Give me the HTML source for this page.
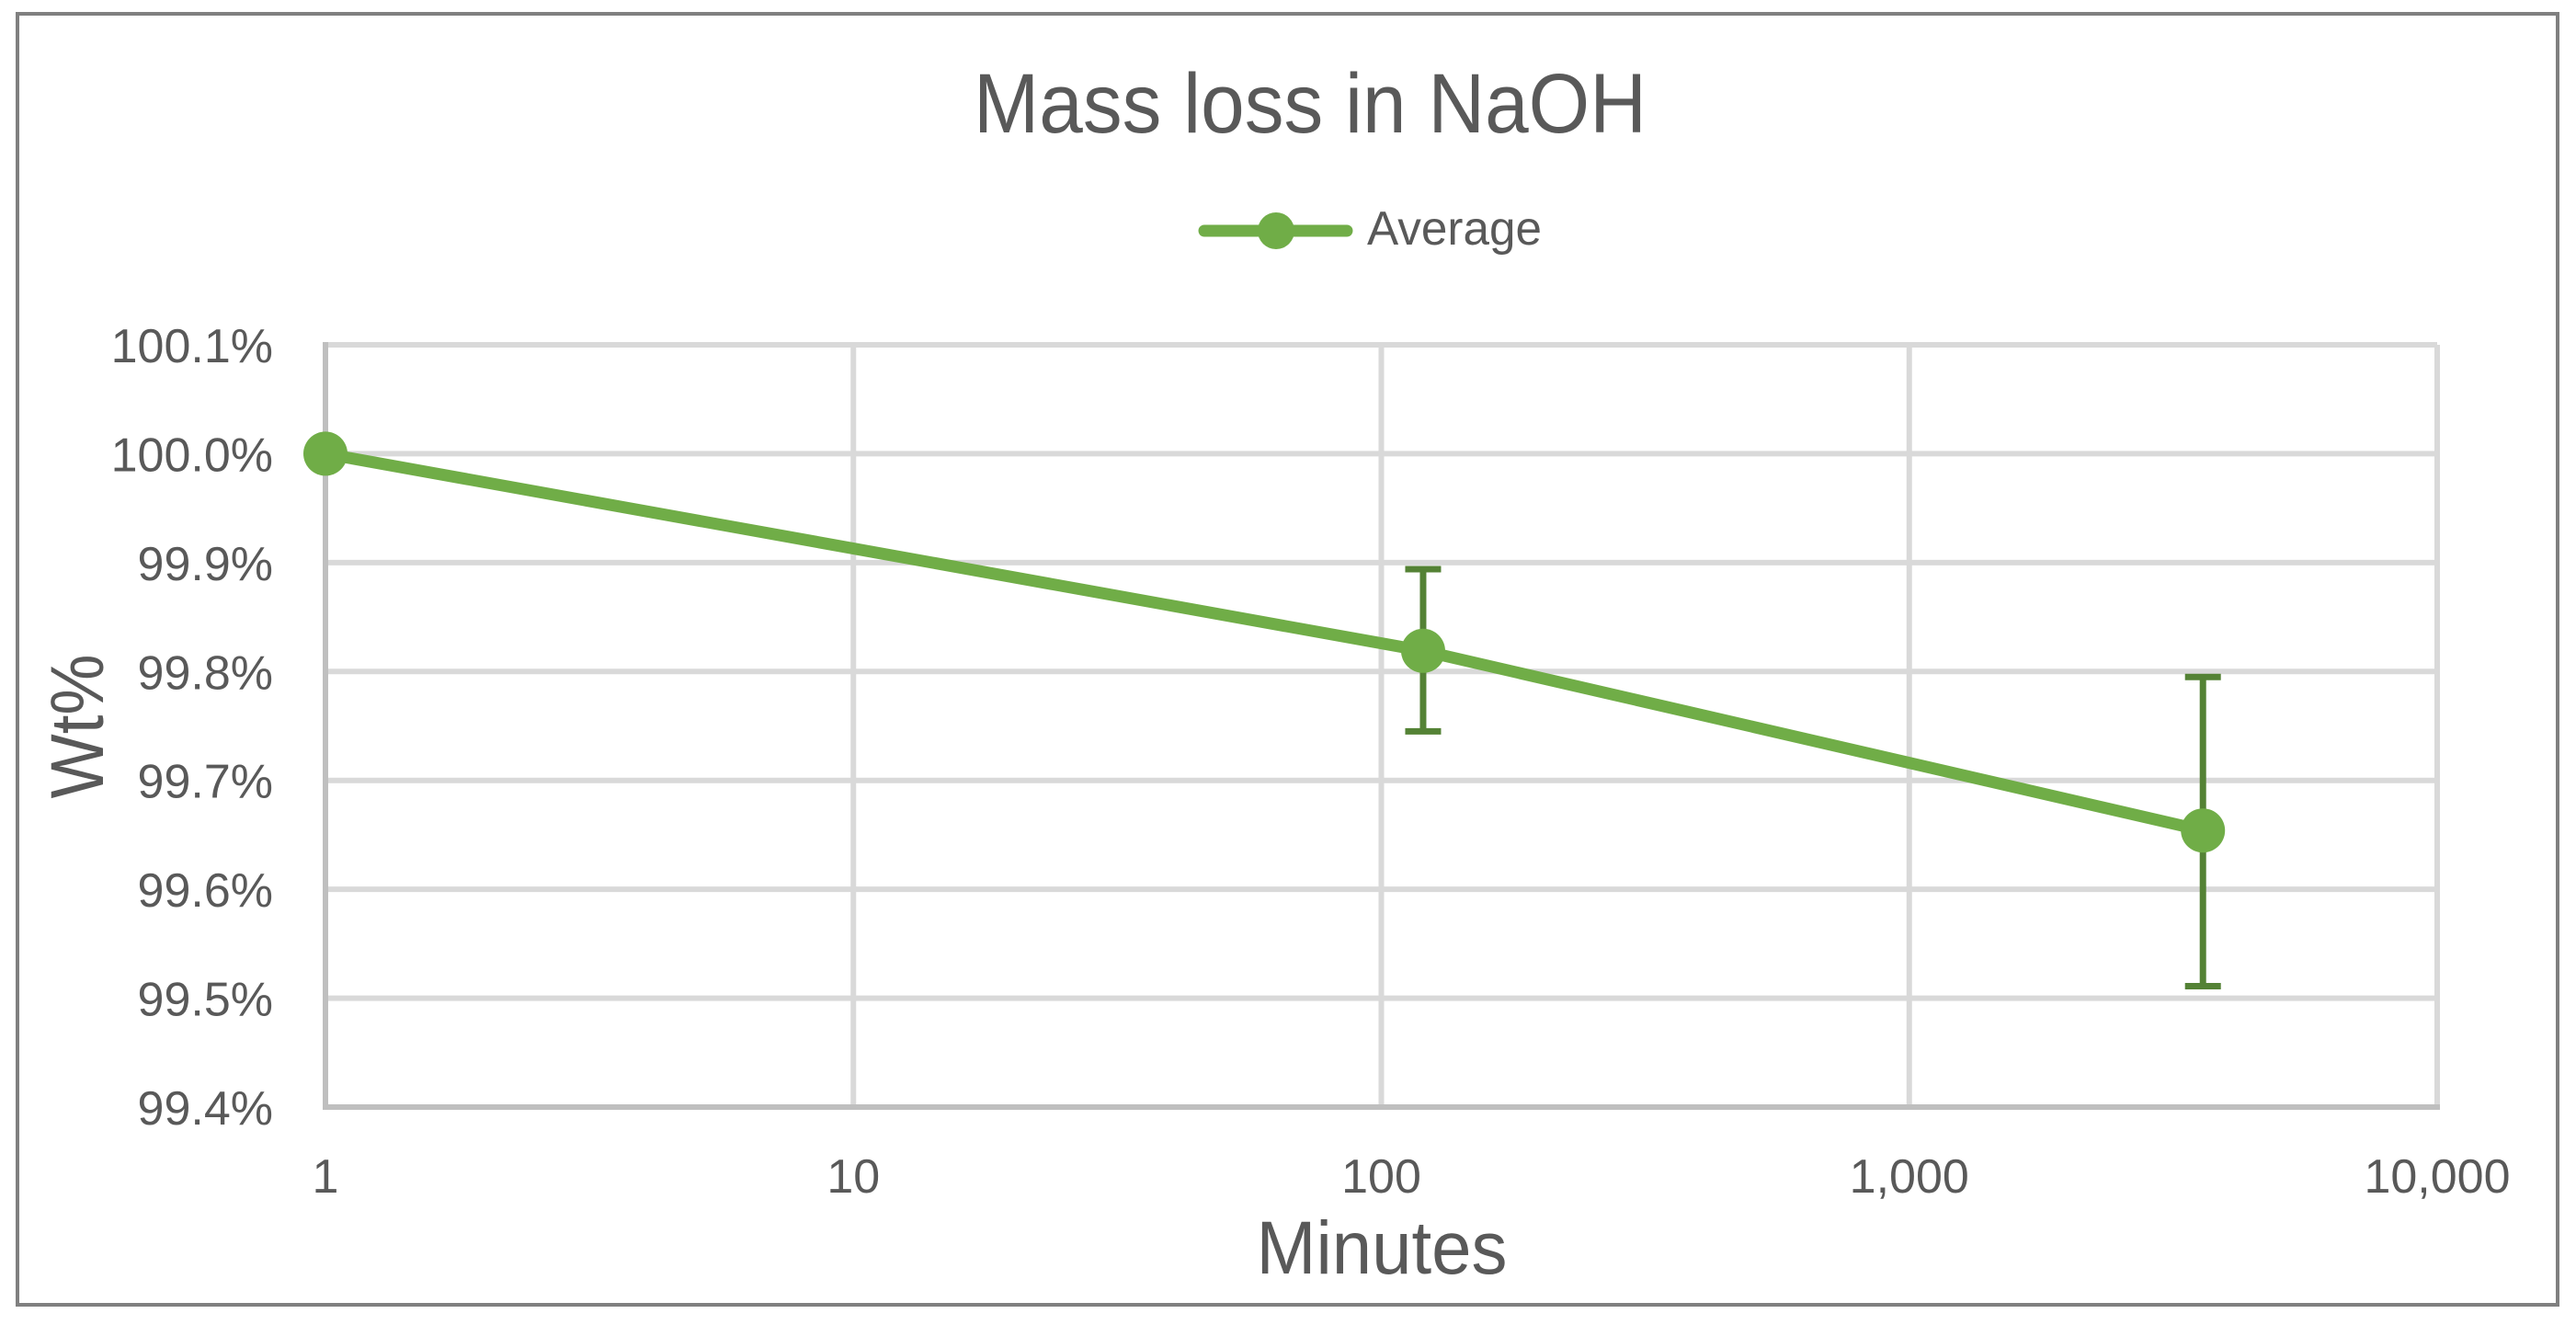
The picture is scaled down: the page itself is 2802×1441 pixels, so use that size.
<!DOCTYPE html>
<html><head><meta charset="utf-8"><style>
html,body{margin:0;padding:0;background:#fff;}
svg{display:block;font-family:"Liberation Sans",sans-serif;}
</style></head><body>
<svg id="chart" width="2802" height="1441" viewBox="0 0 2802 1441">
<rect x="19" y="15" width="2763" height="1404" fill="#fff" stroke="#808080" stroke-width="4"/>
<text x="1425" y="144" text-anchor="middle" font-size="92" fill="#595959" textLength="732" lengthAdjust="spacingAndGlyphs">Mass loss in NaOH</text>
<g>
<line x1="1310" y1="251" x2="1465" y2="251" stroke="#70ad47" stroke-width="13" stroke-linecap="round"/>
<ellipse cx="1388" cy="251" rx="20" ry="20" fill="#70ad47"/>
<text x="1487" y="266" font-size="52" fill="#595959" textLength="190" lengthAdjust="spacingAndGlyphs">Average</text>
</g>
<g id="grid"></g>
<g id="axes"></g>
<g id="ticks"></g>
<g id="series"></g>
<text transform="translate(112,790) rotate(-90)" text-anchor="middle" font-size="82" fill="#595959" textLength="157" lengthAdjust="spacingAndGlyphs">Wt%</text>
<text x="1503" y="1385" text-anchor="middle" font-size="82" fill="#595959" textLength="273" lengthAdjust="spacingAndGlyphs">Minutes</text>
</svg>
<script>
const xValues = [1, 120, 3600];
const yValues = [100.0, 99.819, 99.654];
const errUpper = [0, 0.075, 0.141];
const errLower = [0, 0.074, 0.143];
const yTicks = [99.4, 99.5, 99.6, 99.7, 99.8, 99.9, 100.0, 100.1];
const yTickLabels = ["99.4%","99.5%","99.6%","99.7%","99.8%","99.9%","100.0%","100.1%"];
const xTicks = [1, 10, 100, 1000, 10000];
const xTickLabels = ["1","10","100","1,000","10,000"];

const L=354, R=2651, T=375, B=1204;
const xMinLog=0, xMaxLog=4, yMin=99.4, yMax=100.1;
function xs(v){return L+(Math.log10(v)-xMinLog)/(xMaxLog-xMinLog)*(R-L);}
function ys(v){return B-(v-yMin)/(yMax-yMin)*(B-T);}
const NS="http://www.w3.org/2000/svg";
function mk(tag,attrs,parent){const e=document.createElementNS(NS,tag);for(const k in attrs)e.setAttribute(k,attrs[k]);parent.appendChild(e);return e;}
const grid=document.getElementById('grid'), axes=document.getElementById('axes'), ticks=document.getElementById('ticks'), series=document.getElementById('series');

yTicks.forEach((v,i)=>{
  if(i>0){const g=mk('line',{x1:L,x2:R,y1:ys(v),y2:ys(v),stroke:'#d9d9d9','stroke-width':6},grid);
  
  }
  const t=mk('text',{x:297,y:ys(v)+19,'text-anchor':'end','font-size':52,fill:'#595959'},ticks);
  t.textContent=yTickLabels[i];
  
  
});
xTicks.forEach((v,i)=>{
  if(i>0){const g=mk('line',{x1:xs(v),x2:xs(v),y1:T,y2:B,stroke:'#d9d9d9','stroke-width':6},grid);
  
  }
  const t=mk('text',{x:xs(v),y:1297,'text-anchor':'middle','font-size':52,fill:'#595959'},ticks);
  t.textContent=xTickLabels[i];
  
  
});
const ya=mk('line',{x1:L,x2:L,y1:T-3,y2:B+3,stroke:'#bfbfbf','stroke-width':6},axes);


const xa=mk('line',{x1:L-3,x2:R+3,y1:B,y2:B,stroke:'#bfbfbf','stroke-width':6},axes);



xValues.forEach((v,i)=>{
  if(errUpper[i]>0||errLower[i]>0){
    const cx=xs(v), y1=ys(yValues[i]+errUpper[i]), y2=ys(yValues[i]-errLower[i]);
    const e=mk('line',{x1:cx,x2:cx,y1:y1,y2:y2,stroke:'#548235','stroke-width':7},series);
    
    
    [y1,y2].forEach(y=>{const c=mk('line',{x1:cx-19.5,x2:cx+19.5,y1:y,y2:y,stroke:'#548235','stroke-width':7},series);
    
    });
  }
});
const pts=xValues.map((v,i)=>xs(v)+','+ys(yValues[i])).join(' ');
const pl=mk('polyline',{points:pts,fill:'none',stroke:'#70ad47','stroke-width':13,'stroke-linejoin':'round'},series);


xValues.forEach((v,i)=>{
  const c=mk('circle',{cx:xs(v),cy:ys(yValues[i]),r:24,fill:'#70ad47'},series);
  
  
});
</script>
</body></html>
